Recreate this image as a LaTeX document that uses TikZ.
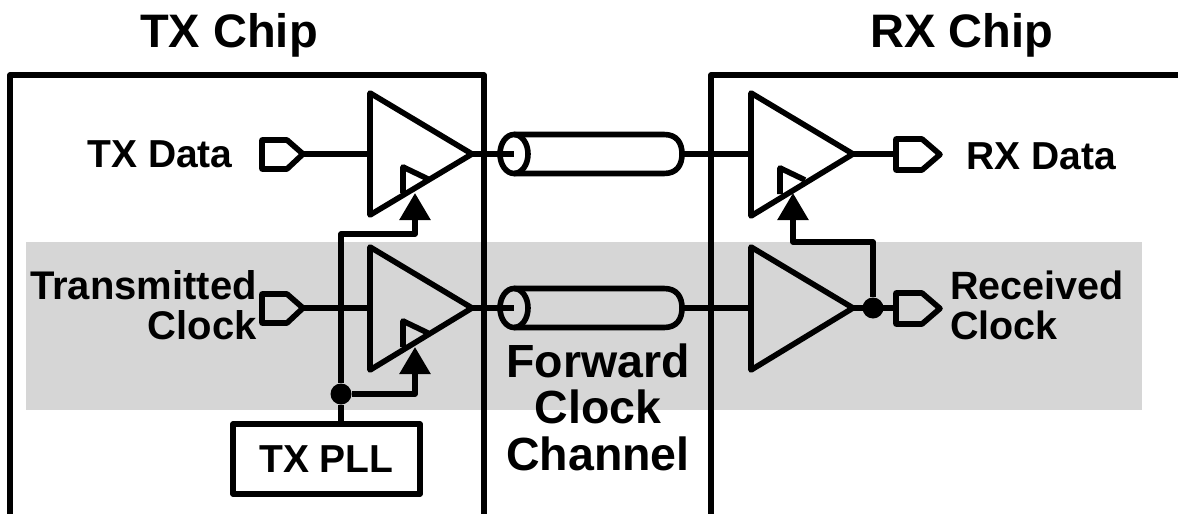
\documentclass[tikz,border=0pt]{standalone}
\usepackage{fontspec}
\setmainfont{Liberation Sans}
\usetikzlibrary{arrows.meta}
\definecolor{bandgray}{HTML}{D6D6D6}
\tikzset{
	wire/.style={line width=5.6pt,line join=round},
	clkwire/.style={wire,-{Triangle[length=27pt,width=30pt]}},
	dot/.style={circle,fill=black,inner sep=0pt,minimum size=21pt},
	chiplabel/.style={font=\bfseries\fontsize{47}{47}\selectfont,inner sep=0pt},
	siglabel/.style={font=\bfseries\fontsize{39}{40}\selectfont,inner sep=0pt},
}
\begin{document}
\begin{tikzpicture}[x=1pt,y=-1pt]
	\useasboundingbox (0,0) rectangle (1178,514);
	\fill[bandgray] (26,242) rectangle (1142,410);
	% chips
		\draw[wire] (10,514)--(10,75)--(484,75)--(484,514);
		\draw[wire] (1178,75)--(711,75)--(711,514);
		\node[chiplabel] (txchip) at (229,35) {TX Chip};
		\node[chiplabel] (rxchip) at (962,35) {RX Chip};
	% TX side
		\coordinate (txdatain) at (303,154);
		\coordinate (txclkin) at (303,308);
		\coordinate (txdataamp) at (370,154);
		\coordinate (txclkamp) at (370,308);
		\coordinate (txdataout) at (472,154);
		\coordinate (txclkout) at (472,308);
		\draw[wire] (262,140)--(287,140)--(303,154)--(287,169)--(262,169)--cycle;
		\draw[wire] (262,294)--(287,294)--(303,308)--(287,323)--(262,323)--cycle;
		\draw[wire] (370,93)--(472,154)--(370,215)--cycle;
		\draw[wire] (370,247)--(472,308)--(370,370)--cycle;
		\draw[wire] (403,193)--(403,167)--(428,179);
		\draw[wire] (403,347)--(403,321)--(428,333);
		\draw[wire] (txdatain)--(txdataamp);
		\draw[wire] (txclkin)--(txclkamp);
		\node[draw,line width=5.6pt,line join=round,minimum width=187pt,minimum height=70pt,inner sep=0pt,font=\bfseries\fontsize{39}{40}\selectfont] (txpll) at (326.5,459) {TX PLL};
		\node[dot] (txjoin) at (341,394) {};
		\coordinate (txdataclk) at (415,193);
		\coordinate (txclkclk) at (415,347);
		\draw[wire] (txpll.north-|txjoin)--(txjoin);
		\draw[clkwire] (txjoin)--(341,234)--(415,234)--(txdataclk);
		\draw[clkwire] (txjoin)--(415,394)--(txclkclk);
	% channels
		\coordinate (datacable) at (514,154);
		\coordinate (clkcable) at (514,308);
		\coordinate (dataend) at (682,154);
		\coordinate (clkend) at (682,308);
		\draw[wire] (datacable) circle[x radius=14,y radius=19.5];
		\draw[wire] (clkcable) circle[x radius=14,y radius=19.5];
		\draw[wire] (514,134.5)--(664,134.5) .. controls (677,134.5) and (682,143) .. (dataend) .. controls (682,165) and (677,173.5) .. (664,173.5)--(514,173.5);
		\draw[wire] (514,288.5)--(664,288.5) .. controls (677,288.5) and (682,297) .. (clkend) .. controls (682,319) and (677,327.5) .. (664,327.5)--(514,327.5);
		\draw[wire] (txdataout)--(datacable);
		\draw[wire] (txclkout)--(clkcable);
		\node[font=\bfseries\fontsize{46.5}{46.5}\selectfont,align=center,inner sep=0pt] (channel) at (598,407) {Forward\\Clock\\Channel};
	% RX side
		\coordinate (rxdataamp) at (751,154);
		\coordinate (rxclkamp) at (751,308);
		\coordinate (rxdataout) at (853,154);
		\coordinate (rxclkout) at (853,308);
		\coordinate (rxdatapad) at (896,154);
		\coordinate (rxclkpad) at (896,308);
		\draw[wire] (751,93)--(853,154)--(751,216)--cycle;
		\draw[wire] (751,247)--(853,308)--(751,370)--cycle;
		\draw[wire] (780,194)--(780,168)--(805,180);
		\draw[wire] (dataend)--(rxdataamp);
		\draw[wire] (clkend)--(rxclkamp);
		\draw[wire] (rxdataout)--(rxdatapad);
		\draw[wire] (rxclkout)--(rxclkpad);
		\draw[wire] (896,139)--(922,139)--(940,154.5)--(922,170)--(896,170)--cycle;
		\draw[wire] (896,293)--(922,293)--(940,308.5)--(922,324)--(896,324)--cycle;
		\node[dot] (rxjoin) at (873,308) {};
		\coordinate (rxdataclk) at (793,193);
		\draw[clkwire] (rxjoin)--(873,242)--(793,242)--(rxdataclk);
	% labels
		\node[siglabel] (txdata) at (160,154) {TX Data};
		\node[siglabel,font=\bfseries\fontsize{40}{40}\selectfont,align=right,anchor=east] (txclk) at (257,305) {Transmitted\\Clock};
		\node[siglabel] (rxdata) at (1041,156) {RX Data};
		\node[siglabel,font=\bfseries\fontsize{39.5}{40}\selectfont,align=left,anchor=west] (rxclk) at (950,305) {Received\\Clock};
\end{tikzpicture}
\end{document}
